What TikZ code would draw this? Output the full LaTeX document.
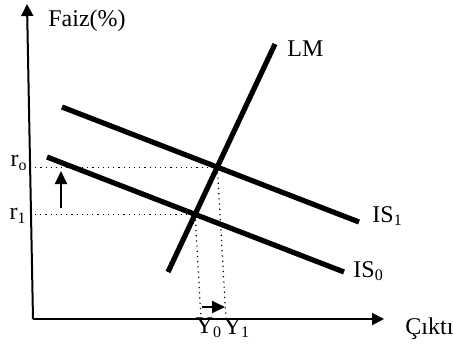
\documentclass[tikz,border=0pt]{standalone}
\usepackage{fontspec}
\setmainfont{Liberation Serif}
\usetikzlibrary{arrows.meta}
\begin{document}
\begin{tikzpicture}[x=0.5pt,y=-0.5pt,
	axis/.style={line width=1pt,-{Triangle[length=6pt,width=6pt]}},
	curve/.style={line width=2.6pt},
	guide/.style={dotted,line width=0.6pt},
	movearrow/.style={line width=1pt,-{Triangle[length=6.5pt,width=6pt]}},
	lbl/.style={inner sep=0pt,font=\fontsize{12}{14}\selectfont}]
	\useasboundingbox (0,0) rectangle (453,345);
	% axes
	\coordinate (origin) at (33,319);
	\coordinate (ytop) at (27,4);
	\coordinate (xend) at (384,319);
	\draw[axis] (origin) -- (ytop);
	\draw[axis] (origin) -- (xend);
	\node[lbl,anchor=west] (faiz) at (48,21) {Faiz(\%)};
	\node[lbl,anchor=west] (cikti) at (405,329) {Çıktı};
	% curves
	\coordinate (is1a) at (62,107);
	\coordinate (is1b) at (359,222);
	\coordinate (is0a) at (47,157);
	\coordinate (is0b) at (344,272);
	\coordinate (lma) at (168,272);
	\coordinate (lmb) at (275,44);
	\draw[curve] (is1a) -- (is1b);
	\draw[curve] (is0a) -- (is0b);
	\draw[curve] (lma) -- (lmb);
	\node[lbl,anchor=west] (lm) at (287,49) {LM};
	\node[lbl,anchor=west] (is1) at (372,216) {IS\textsubscript{1}};
	\node[lbl,anchor=west] (is0) at (353,271) {IS\textsubscript{0}};
	% equilibria
	\coordinate (e1) at (intersection of is1a--is1b and lma--lmb);
	\coordinate (e0) at (intersection of is0a--is0b and lma--lmb);
	\coordinate (ro) at (30,0 |- e1);
	\coordinate (r1) at (35,0 |- e0);
	\coordinate (y0) at (201,319);
	\coordinate (y1) at (226,319);
	\draw[guide] (ro) -- (e1);
	\draw[guide] (r1) -- (e0);
	\draw[guide] (e0) -- (y0);
	\draw[guide] (e1) -- (y1);
	\node[lbl,anchor=east] (rolbl) at (28,163) {r\textsubscript{o}};
	\node[lbl,anchor=east] (r1lbl) at (27,216) {r\textsubscript{1}};
	\node[lbl] (y0lbl) at (209,328) {Y\textsubscript{0}};
	\node[lbl] (y1lbl) at (237,328) {Y\textsubscript{1}};
	% shifts
	\coordinate (ua) at (61,208);
	\coordinate (ub) at (61,171);
	\coordinate (ra) at (202,307);
	\coordinate (rb) at (225,307);
	\draw[movearrow] (ua) -- (ub);
	\draw[movearrow] (ra) -- (rb);
\end{tikzpicture}
\end{document}
